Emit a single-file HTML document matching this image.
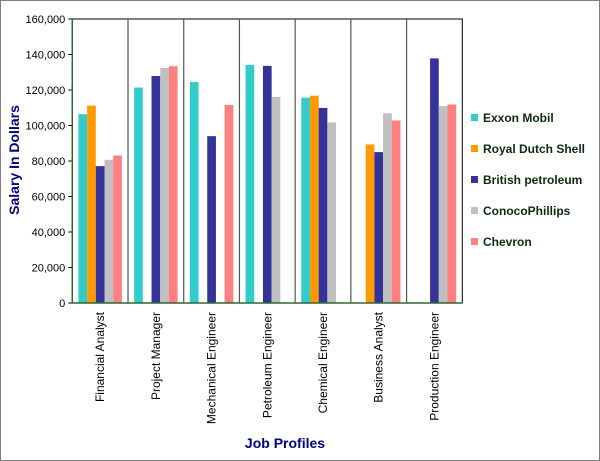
<!DOCTYPE html>
<html><head><meta charset="utf-8"><style>
body{margin:0;background:#fff}
svg{display:block;font-family:"Liberation Sans",Arial,sans-serif}
</style></head><body>
<svg id="c" width="600" height="461">
<rect x="0.5" y="0.5" width="599" height="460" fill="#fff" stroke="#808080"/>
</svg>
<script>
const categories=["Financial Analyst","Project Manager","Mechanical Engineer","Petroleum Engineer","Chemical Engineer","Business Analyst","Production Engineer"];
const seriesNames=["Exxon Mobil","Royal Dutch Shell","British petroleum","ConocoPhillips","Chevron"];
const exxon=[106400,121400,124500,134100,115700,0,0];
const shell=[111200,0,0,0,116800,89300,0];
const bp=[77100,127900,94000,133600,109900,85000,137800];
const conoco=[80700,132400,0,116100,101700,106900,111000];
const chevron=[83100,133400,111600,0,0,102800,111800];
const yTicks=[0,20000,40000,60000,80000,100000,120000,140000,160000];
const colors=["#33CCCC","#FF9900","#333399","#C0C0C0","#FF8080"];
const series=[exxon,shell,bp,conoco,chevron];
const NS="http://www.w3.org/2000/svg";
const svg=document.getElementById('c');
const L=72.3,R=462.3,T=19,B=303,yMax=160000;
const y=v=>B-(v/yMax)*(B-T);
const cw=(R-L)/categories.length;
const x=i=>L+i*cw;
function mk(t,a,p){const e=document.createElementNS(NS,t);for(const k in a)e.setAttribute(k,a[k]);(p||svg).appendChild(e);return e;}
// plot frame
const frame=mk('rect',{x:L,y:T,width:R-L,height:B-T,fill:'none',stroke:'#000','stroke-width':1});


// dividers
for(let i=1;i<categories.length;i++){
 const d=mk('line',{x1:x(i),x2:x(i),y1:T,y2:B,stroke:'#555','stroke-width':1.2});
 
 
}
// y ticks
yTicks.forEach(v=>{
 const tk=mk('line',{x1:L-4,x2:L,y1:y(v),y2:y(v),stroke:'#000'});
 
 
 const t=mk('text',{x:L-7,y:y(v)+4,'text-anchor':'end','font-size':11,fill:'#000'});
 t.textContent=v.toLocaleString('en-US');
 
 
});
// bars
const bw=cw*0.156,off=(cw-5*bw)/2;
series.forEach((s,si)=>{
 s.forEach((v,ci)=>{
  if(!v)return;
  const r=mk('rect',{x:x(ci)+off+si*bw,y:y(v),width:bw,height:B-y(v),fill:colors[si]});
  
  
 });
});
// axis lines
const xa=mk('line',{x1:L,x2:R,y1:B,y2:B,stroke:'#336633','stroke-width':1.5});


const ya=mk('line',{x1:L,x2:L,y1:T,y2:B,stroke:'#336633','stroke-width':1.5});


// x labels
categories.forEach((c,i)=>{
 const cx=x(i)+cw/2+4;
 const t=mk('text',{x:0,y:0,'text-anchor':'end','font-size':12,fill:'#000',transform:`translate(${cx},312) rotate(-90)`});
 t.textContent=c;
 
 
});
// titles
const xt=mk('text',{x:285,y:448,'text-anchor':'middle','font-size':14,'font-weight':'bold',fill:'#000080'});
xt.textContent='Job Profiles';


const yt=mk('text',{x:0,y:0,'text-anchor':'middle','font-size':14,'font-weight':'bold',fill:'#000080',transform:'translate(19,160) rotate(-90)'});
yt.textContent='Salary In Dollars';


// legend
seriesNames.forEach((n,i)=>{
 const ly=118+i*31;
 const g=mk('g',{});
 
 
 mk('rect',{x:471,y:ly-4,width:7,height:7,fill:colors[i]},g);
 const t=mk('text',{x:483,y:ly+4,'font-size':12,'font-weight':'bold',fill:'#0d2a0d'},g);
 t.textContent=n;
});
</script>
</body></html>
